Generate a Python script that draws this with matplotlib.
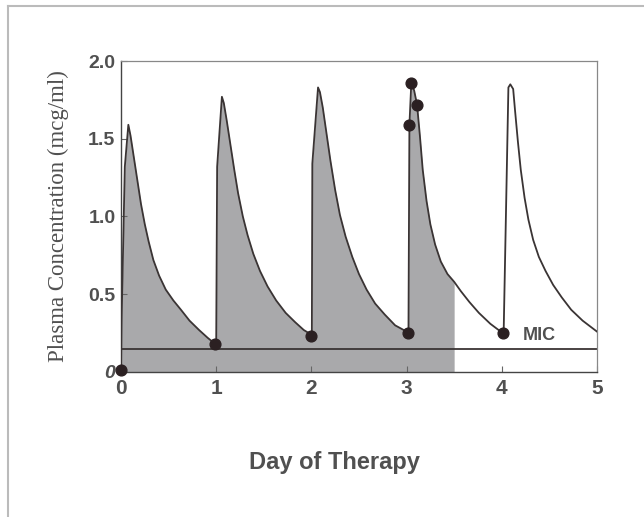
import numpy as np
import matplotlib.pyplot as plt
from matplotlib.lines import Line2D

# concentration curve (day, mcg/ml)
days = [0.0, 0.005, 0.04, 0.077, 0.10, 0.13, 0.17, 0.21, 0.25, 0.29, 0.34, 0.40, 0.47,
        0.55, 0.63, 0.72, 0.82, 0.91, 0.99,
        1.0, 1.01, 1.06, 1.08, 1.11, 1.15, 1.19, 1.23, 1.28, 1.33, 1.39, 1.46, 1.54,
        1.63, 1.73, 1.83, 1.92, 2.0,
        2.005, 2.01, 2.07, 2.09, 2.12, 2.16, 2.20, 2.25, 2.30, 2.36, 2.43, 2.50, 2.58,
        2.67, 2.77, 2.88, 3.0,
        3.02, 3.03, 3.05, 3.08, 3.11, 3.14, 3.17, 3.21, 3.25, 3.30, 3.36, 3.43, 3.5,
        3.57, 3.66, 3.76, 3.88, 4.01,
        4.02, 4.07, 4.09, 4.12, 4.14, 4.17, 4.20, 4.24, 4.28, 4.33, 4.39, 4.46, 4.54,
        4.63, 4.73, 4.85, 5.0]
conc = [0.01, 0.30, 1.32, 1.59, 1.52, 1.40, 1.24, 1.08, 0.95, 0.84, 0.72, 0.62, 0.53,
        0.46, 0.40, 0.33, 0.27, 0.22, 0.18,
        0.18, 1.32, 1.77, 1.73, 1.62, 1.46, 1.30, 1.15, 1.00, 0.88, 0.76, 0.65, 0.55,
        0.46, 0.38, 0.32, 0.27, 0.24,
        0.24, 1.34, 1.83, 1.80, 1.70, 1.53, 1.36, 1.17, 1.01, 0.87, 0.74, 0.63, 0.53,
        0.44, 0.37, 0.30, 0.26,
        0.25, 1.59, 1.86, 1.81, 1.72, 1.52, 1.30, 1.10, 0.95, 0.82, 0.71, 0.63, 0.58,
        0.52, 0.45, 0.38, 0.31, 0.25,
        0.25, 1.83, 1.85, 1.82, 1.68, 1.48, 1.30, 1.12, 0.98, 0.85, 0.74, 0.65, 0.56,
        0.48, 0.40, 0.33, 0.26]

# sampled points (dots)
pt_days = [0.0, 0.99, 2.0, 3.01, 3.03, 3.05, 3.11, 4.01]
pt_conc = [0.01, 0.18, 0.23, 0.25, 1.59, 1.86, 1.72, 0.25]

mic = 0.145
shade_end = 3.5

yticks = [0, 0.5, 1.0, 1.5, 2.0]
ytick_labels = ['0', '0.5', '1.0', '1.5', '2.0']
xticks = [0, 1, 2, 3, 4, 5]

sans = ['Liberation Sans', 'DejaVu Sans']
grey = '#505050'
line_c = '#3a3434'

x = np.array(days)
y = np.array(conc)

fig = plt.figure(figsize=(6.44, 5.17), dpi=100)
ax = fig.add_axes([0.1879, 0.2805, 0.739, 0.6015])

m = x <= shade_end
ax.fill_between(x[m], 0, y[m], color='#a9a9ab', lw=0, zorder=1)
ax.plot(x, y, color=line_c, lw=1.3, zorder=3)
ax.axhline(mic, color=line_c, lw=1.3, zorder=2)
ax.scatter(pt_days, pt_conc, s=60, color='#2b2022', zorder=5, clip_on=False)
ax.text(4.22, 0.235, 'MIC', family=sans, fontweight='bold', fontsize=13,
        color=grey, va='center')

ax.set_xlim(0, 5)
ax.set_ylim(0, 2.0)
ax.set_xticks(xticks)
ax.set_yticks(yticks)
ax.set_yticklabels(ytick_labels)
ax.tick_params(direction='in', length=4, width=0.8, colors='#666666')
for lab in ax.get_yticklabels():
    lab.set_family(sans)
    lab.set_fontsize(14)
    lab.set_fontweight('bold')
    lab.set_color(grey)
ax.get_yticklabels()[0].set_style('italic')
for lab in ax.get_xticklabels():
    lab.set_family(sans)
    lab.set_fontsize(15)
    lab.set_fontweight('bold')
    lab.set_color(grey)
ax.tick_params(axis='x', pad=5)
ax.tick_params(axis='y', pad=4)

for s in ['top', 'right']:
    ax.spines[s].set_color('#888888')
    ax.spines[s].set_linewidth(0.9)
for s in ['left', 'bottom']:
    ax.spines[s].set_color('#444444')
    ax.spines[s].set_linewidth(1.0)

ax.set_ylabel('Plasma Concentration (mcg/ml)', family='Liberation Serif',
              fontsize=16.5, color=grey, labelpad=14)
fig.text(0.52, 0.105, 'Day of Therapy', family=sans, fontweight='bold',
         fontsize=17, color=grey, ha='center', va='center')

# outer frame of the scanned page (top and left edges)
fig.add_artist(Line2D([0.0124, 1.0], [0.988, 0.988], color='#bbbbbb', lw=1.5))
fig.add_artist(Line2D([0.0124, 0.0124], [0.0, 0.988], color='#bbbbbb', lw=1.5))

fig.savefig('out.png', dpi=100, facecolor='white')
